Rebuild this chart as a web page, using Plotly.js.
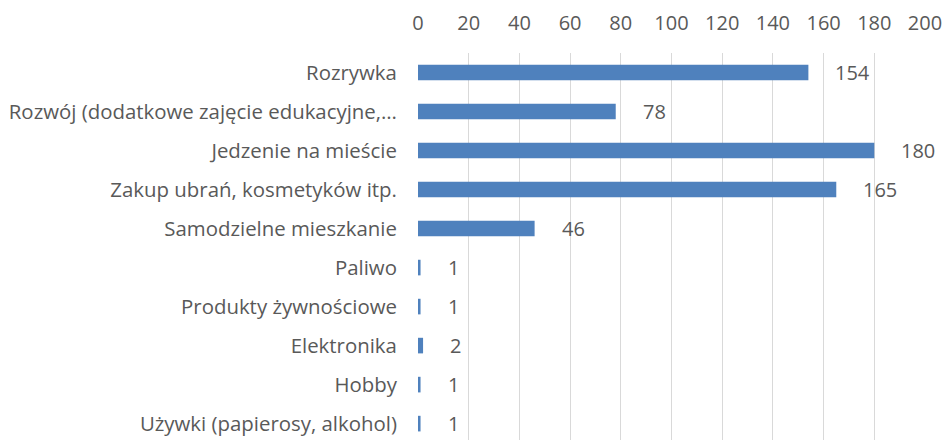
<!DOCTYPE html>
<html>
<head>
<meta charset="utf-8">
<script src="https://cdn.plot.ly/plotly-3.0.1.min.js"></script>
<style>html,body{margin:0;padding:0;background:#fff;}#chart{width:944px;height:440px;}</style>
</head>
<body>
<div id="chart"></div>
<script>
const categories = [
  "Rozrywka",
  "Rozwój (dodatkowe zajęcie edukacyjne,…",
  "Jedzenie na mieście",
  "Zakup ubrań, kosmetyków itp.",
  "Samodzielne mieszkanie",
  "Paliwo",
  "Produkty żywnościowe",
  "Elektronika",
  "Hobby",
  "Używki (papierosy, alkohol)"
];
const values = [154, 78, 180, 165, 46, 1, 1, 2, 1, 1];
const tickValues = [0, 20, 40, 60, 80, 100, 120, 140, 160, 180, 200];

const FONT = "'Open Sans', Lato, sans-serif";
const GREY = "#595959";

const trace = {
  type: "bar",
  orientation: "h",
  x: values,
  y: categories,
  marker: {color: "#4F81BD"},
  hoverinfo: "none"
};

const annotations = values.map((v, i) => ({
  x: v, y: categories[i], xref: "x", yref: "y",
  text: String(v), showarrow: false,
  xanchor: "left", xshift: 25,
  font: {family: FONT, size: 20, color: GREY}
}));

const layout = {
  width: 944, height: 440,
  margin: {l: 418, r: 19, t: 53, b: 0, pad: 0},
  paper_bgcolor: "#fff", plot_bgcolor: "#fff",
  showlegend: false,
  bargap: 0.6,
  xaxis: {
    side: "top", range: [0, 200], tickvals: tickValues,
    showgrid: true, gridcolor: "#d9d9d9", gridwidth: 1,
    zeroline: false, showline: false,
    ticks: "outside", ticklen: 14, tickcolor: "rgba(0,0,0,0)",
    tickfont: {family: FONT, size: 20, color: GREY},
    fixedrange: true
  },
  yaxis: {
    type: "category", range: [9.42, -0.5],
    showgrid: false, zeroline: false, showline: false,
    ticks: "outside", ticklen: 16, tickcolor: "rgba(0,0,0,0)",
    tickfont: {family: FONT, size: 20.4, color: GREY},
    fixedrange: true
  },
  annotations: annotations
};

Plotly.newPlot("chart", [trace], layout, {displayModeBar: false, staticPlot: true});
</script>
</body>
</html>
